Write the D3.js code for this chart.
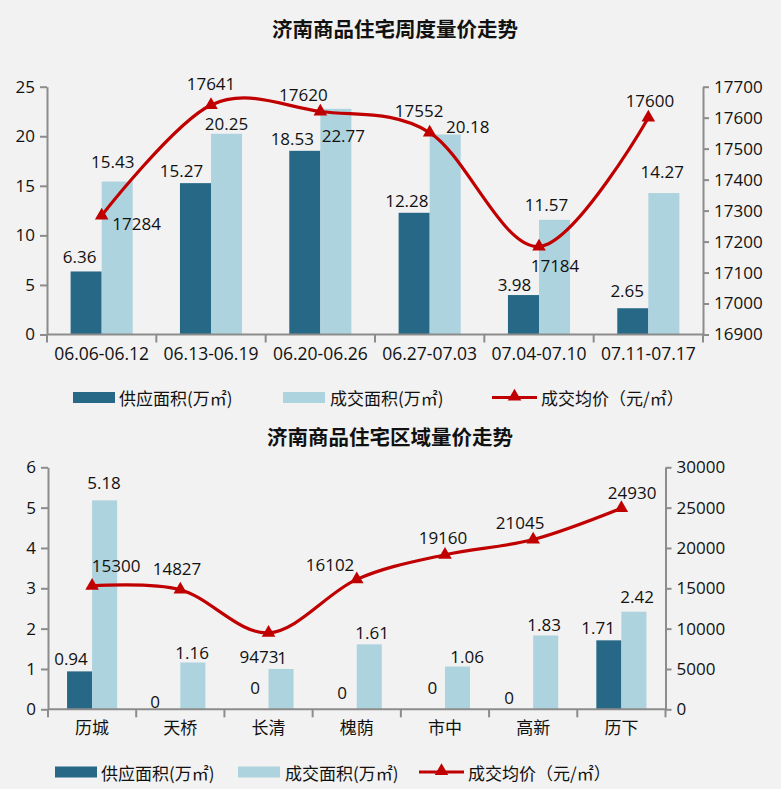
<!DOCTYPE html>
<html><head><meta charset="utf-8">
<script src="https://cdn.jsdelivr.net/npm/d3@7/dist/d3.min.js"></script>
<style>
html,body{margin:0;padding:0;background:#f2f2f2;}
svg{display:block;font-family:"Open Sans","Noto Sans CJK SC",sans-serif;}
</style></head>
<body>
<script>
// ---------- DATA ----------
const weekCats = ["06.06-06.12","06.13-06.19","06.20-06.26","06.27-07.03","07.04-07.10","07.11-07.17"];
const weekSupply = [6.36, 15.27, 18.53, 12.28, 3.98, 2.65];
const weekDeal = [15.43, 20.25, 22.77, 20.18, 11.57, 14.27];
const weekPrice = [17284, 17641, 17620, 17552, 17184, 17600];
const weekLeftTicks = [0, 5, 10, 15, 20, 25];
const weekRightTicks = [16900, 17000, 17100, 17200, 17300, 17400, 17500, 17600, 17700];

const areaCats = ["历城","天桥","长清","槐荫","市中","高新","历下"];
const areaSupply = [0.94, 0, 0, 0, 0, 0, 1.71];
const areaDeal = [5.18, 1.16, 1, 1.61, 1.06, 1.83, 2.42];
const areaPrice = [15300, 14827, 9473, 16102, 19160, 21045, 24930];
const areaLeftTicks = [0, 1, 2, 3, 4, 5, 6];
const areaRightTicks = [0, 5000, 10000, 15000, 20000, 25000, 30000];

const titles = ["济南商品住宅周度量价走势", "济南商品住宅区域量价走势"];
const legendNames = ["供应面积(万㎡)", "成交面积(万㎡)", "成交均价（元/㎡）"];

// ---------- LAYOUT (label nudges, px) ----------
const weekSupplyNudge = [[-6.5,-14.5],[-14,-13],[-12.5,-12.6],[-7.3,-12],[-9,-10.7],[-5.6,-17.5]];
const weekDealNudge = [[-4.5,-20],[0,-10.7],[7.5,27],[22.6,-8],[-8,-15.5],[-1.6,-21.4]];
const weekPriceNudge = [[35,7.7],[0,-21],[-17,-17.4],[-10.6,-22],[16,19],[1.6,-16.7]];
const areaSupplyNudge = [[-8.6,-12.4],[-12.8,-7.6],[-1,-22.3],[-2.2,-16.6],[0,-22.3],[-11.6,-12.3],[-10.8,-13.3]];
const areaDealNudge = [[-0.6,-17.4],[-0.8,-9.8],[1,-11],[2.8,-11.7],[9.6,-10.5],[-1.6,-10.5],[3.2,-15]];
const areaPriceNudge = [[24,-20],[-3.3,-20.7],[-9.5,24],[-26.7,-15.4],[-2,-17.7],[-13,-17.5],[10.7,-15.2]];

const COL_DARK = "#266885", COL_LIGHT = "#add3de", COL_LINE = "#c00000", COL_AXIS = "#8c8c8c", COL_TEXT = "#111";
const NUM_FONT = "'Open Sans','Noto Sans CJK SC'";

const svg = d3.select("body").append("svg").attr("width", 781).attr("height", 789);
svg.append("rect").attr("width", 781).attr("height", 789).attr("fill", "#f2f2f2");

function drawChart(cfg) {
  const g = svg.append("g");
  const x = d3.scaleBand().domain(cfg.cats).range([cfg.x0, cfg.x1]).padding(0);
  const yL = d3.scaleLinear().domain(cfg.leftDomain).range([cfg.yb, cfg.yt]);
  const yR = d3.scaleLinear().domain(cfg.rightDomain).range([cfg.yb, cfg.yt]);
  const bw = x.bandwidth() * cfg.barFrac;
  const cx = c => x(c) + x.bandwidth() / 2;

  // title
  g.append("text").attr("x", cfg.titleX).attr("y", cfg.titleY).attr("text-anchor", "middle")
    .attr("dominant-baseline", "central").attr("font-family", "'Noto Sans CJK SC'")
    .attr("font-weight", "bold").attr("font-size", 20.5).attr("fill", COL_TEXT).text(cfg.title);

  // bars
  g.selectAll(".bs").data(cfg.supply).join("rect")
    .attr("x", (d, i) => cx(cfg.cats[i]) - bw).attr("width", bw)
    .attr("y", d => yL(d)).attr("height", d => yL(0) - yL(d)).attr("fill", COL_DARK);
  g.selectAll(".bd").data(cfg.deal).join("rect")
    .attr("x", (d, i) => cx(cfg.cats[i])).attr("width", bw)
    .attr("y", d => yL(d)).attr("height", d => yL(0) - yL(d)).attr("fill", COL_LIGHT);

  // axes
  const fmt = d3.format("d");
  const axL = g.append("g").attr("transform", `translate(${cfg.x0},0)`)
    .call(d3.axisLeft(yL).tickValues(cfg.leftTicks).tickFormat(fmt).tickSize(7).tickSizeOuter(0).tickPadding(5));
  const axR = g.append("g").attr("transform", `translate(${cfg.x1},0)`)
    .call(d3.axisRight(yR).tickValues(cfg.rightTicks).tickFormat(fmt).tickSize(6).tickSizeOuter(0).tickPadding(5));
  const axB = g.append("g").attr("transform", `translate(0,${cfg.yb})`)
    .call(d3.axisBottom(x).tickSize(0).tickPadding(cfg.catPad));
  [axL, axR, axB].forEach(a => {
    a.select(".domain").attr("stroke", COL_AXIS).attr("stroke-width", 2);
    a.selectAll(".tick line").attr("stroke", COL_AXIS).attr("stroke-width", 2);
    a.selectAll("text").attr("fill", COL_TEXT).attr("font-size", 17).attr("font-family", NUM_FONT);
  });
  axB.selectAll("text").attr("font-size", cfg.catFont).attr("font-family", "'Open Sans','Noto Sans CJK SC'");
  axB.select(".domain").attr("d", `M${cfg.x0},0H${cfg.x1}`);
  const bounds = cfg.cats.map(c => x(c)).concat([cfg.x1]);
  g.selectAll(".xt").data(bounds).join("line")
    .attr("x1", d => d).attr("x2", d => d).attr("y1", cfg.yb).attr("y2", cfg.yb + 8)
    .attr("stroke", COL_AXIS).attr("stroke-width", 2);

  // price line
  const pts = cfg.price.map((v, i) => [cx(cfg.cats[i]), yR(v)]);
  g.append("path").attr("d", d3.line().curve(d3.curveCardinal.tension(0))(pts))
    .attr("fill", "none").attr("stroke", COL_LINE).attr("stroke-width", 3.2);
  g.selectAll(".mk").data(pts).join("path")
    .attr("transform", d => `translate(${d[0]},${d[1]})`)
    .attr("d", d3.symbol(d3.symbolTriangle, 80)).attr("fill", COL_LINE);

  // labels
  const lab = (sel, data, anchorFn, nudge) => sel.selectAll(null).data(data).join("text")
    .attr("x", (d, i) => anchorFn(d, i)[0] + nudge[i][0])
    .attr("y", (d, i) => anchorFn(d, i)[1] + nudge[i][1])
    .attr("text-anchor", "middle").attr("dominant-baseline", "central")
    .attr("font-size", 17).attr("font-family", NUM_FONT).attr("fill", COL_TEXT).text(d => d);
  lab(g, cfg.supply, (d, i) => [cx(cfg.cats[i]) - bw / 2, yL(d)], cfg.supplyNudge);
  lab(g, cfg.deal, (d, i) => [cx(cfg.cats[i]) + bw / 2, yL(d)], cfg.dealNudge);
  lab(g, cfg.price, (d, i) => pts[i], cfg.priceNudge);

  // legend
  const lg = g.append("g").attr("font-family", "'Noto Sans CJK SC'").attr("font-size", 17).attr("fill", COL_TEXT);
  const L = cfg.legend;
  lg.append("rect").attr("x", L[0]).attr("y", cfg.legY - 5.5).attr("width", 42).attr("height", 11).attr("fill", COL_DARK);
  lg.append("text").attr("x", L[0] + 46).attr("y", cfg.legY).attr("dominant-baseline", "central").text(legendNames[0]);
  lg.append("rect").attr("x", L[1]).attr("y", cfg.legY - 5.5).attr("width", 42).attr("height", 11).attr("fill", COL_LIGHT);
  lg.append("text").attr("x", L[1] + 47).attr("y", cfg.legY).attr("dominant-baseline", "central").text(legendNames[1]);
  lg.append("line").attr("x1", L[2]).attr("x2", L[2] + 45).attr("y1", cfg.legY).attr("y2", cfg.legY)
    .attr("stroke", COL_LINE).attr("stroke-width", 3.2);
  lg.append("path").attr("transform", `translate(${L[2] + 22.5},${cfg.legY - 1})`)
    .attr("d", d3.symbol(d3.symbolTriangle, 80)).attr("fill", COL_LINE);
  lg.append("text").attr("x", L[2] + 49).attr("y", cfg.legY).attr("dominant-baseline", "central").text(legendNames[2]);
}

drawChart({
  title: titles[0], titleX: 395, titleY: 28,
  cats: weekCats, supply: weekSupply, deal: weekDeal, price: weekPrice,
  leftTicks: weekLeftTicks, rightTicks: weekRightTicks,
  leftDomain: [0, 25], rightDomain: [16900, 17700],
  x0: 47, x1: 703, yt: 86.7, yb: 334.5, barFrac: 0.284, catPad: 13, catFont: 17.5,
  supplyNudge: weekSupplyNudge, dealNudge: weekDealNudge, priceNudge: weekPriceNudge,
  legend: [73, 283, 492], legY: 397.5
});
drawChart({
  title: titles[1], titleX: 390, titleY: 435.5,
  cats: areaCats, supply: areaSupply, deal: areaDeal, price: areaPrice,
  leftTicks: areaLeftTicks, rightTicks: areaRightTicks,
  leftDomain: [0, 6], rightDomain: [0, 30000],
  x0: 48, x1: 665.5, yt: 467.3, yb: 709.3, barFrac: 0.284, catPad: 13, catFont: 17,
  supplyNudge: areaSupplyNudge, dealNudge: areaDealNudge, priceNudge: areaPriceNudge,
  legend: [55, 238, 419], legY: 772
});
</script>
</body></html>
